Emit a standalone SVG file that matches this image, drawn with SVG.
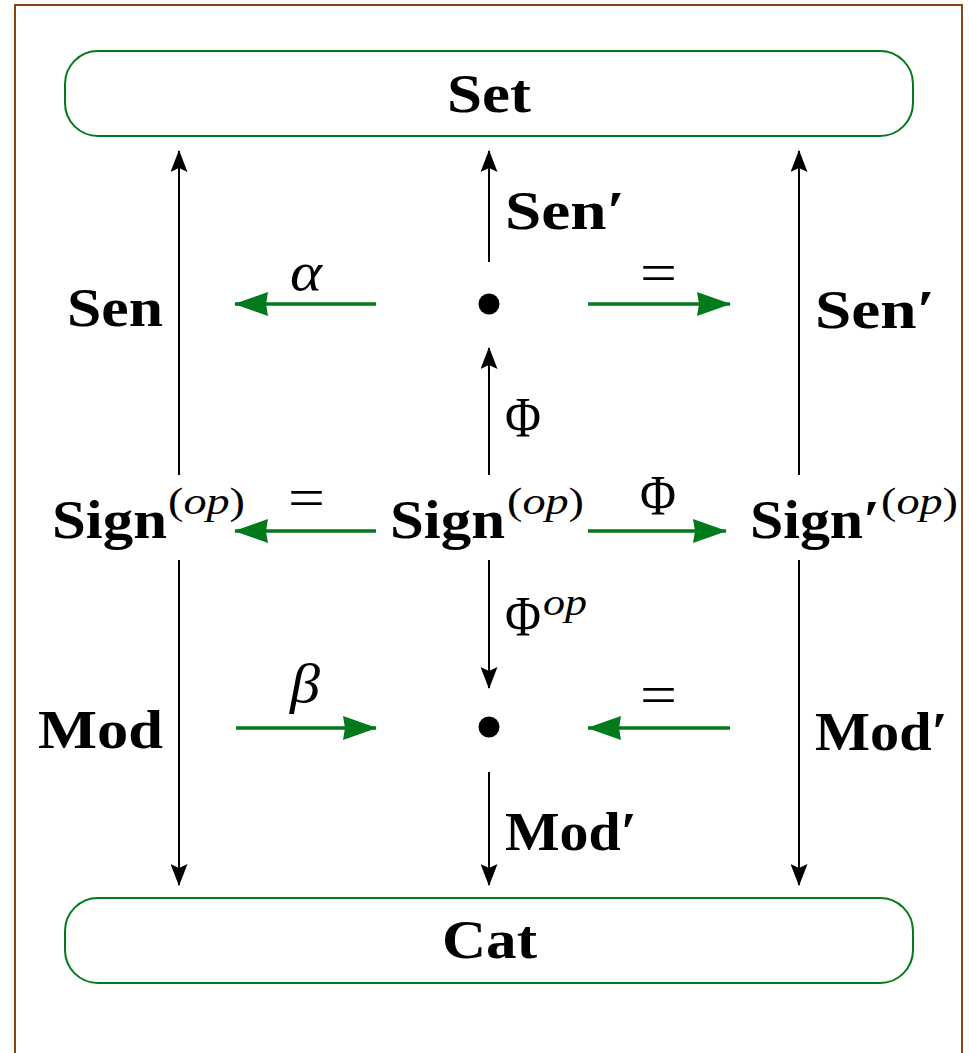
<svg xmlns="http://www.w3.org/2000/svg" width="969" height="1053" viewBox="0 0 969 1053">
<style>
.frame{fill:none;stroke:#8B4513;stroke-width:2}
.box{fill:#fff;stroke:#007a1a;stroke-width:2}
.blk{stroke:#000;stroke-width:2;fill:none}
.grn{stroke:#007a1a;stroke-width:3.5;fill:none}
.bold{font-family:"Liberation Serif","DejaVu Serif",serif;font-weight:bold;font-size:55px;fill:#000}
.rm{font-family:"Liberation Serif","DejaVu Serif",serif;font-size:56px;fill:#000}
.it{font-family:"Liberation Serif","DejaVu Serif",serif;font-style:italic;font-size:54px;fill:#000}
.sup{font-family:"Liberation Serif","DejaVu Serif",serif;font-style:italic;font-size:38px;fill:#000}
.supr{font-family:"Liberation Serif","DejaVu Serif",serif;font-size:38px;fill:#000}
</style>
<defs>
<marker id="ah" viewBox="0 0 22 17" refX="21" refY="8.5" markerWidth="22" markerHeight="17" markerUnits="userSpaceOnUse" orient="auto">
<path d="M0,0 L22,8.5 L0,17 L4,8.5 Z" fill="#000"/>
</marker>
<marker id="gh" viewBox="0 0 34 24" refX="33" refY="12" markerWidth="34" markerHeight="24" markerUnits="userSpaceOnUse" orient="auto">
<path d="M0,0 L34,12 L0,24 L2,12 Z" fill="#007a1a"/>
</marker>
</defs>
<rect class="frame" x="15" y="5" width="947" height="1100"/>

<g id="connectors">
<line class="blk" x1="179" y1="475" x2="179" y2="151" marker-end="url(#ah)"/>
<line class="blk" x1="179" y1="560" x2="179" y2="885" marker-end="url(#ah)"/>
<line class="blk" x1="799" y1="475" x2="799" y2="151" marker-end="url(#ah)"/>
<line class="blk" x1="799" y1="560" x2="799" y2="885" marker-end="url(#ah)"/>
<line class="blk" x1="489" y1="262" x2="489" y2="151" marker-end="url(#ah)"/>
<line class="blk" x1="489" y1="475" x2="489" y2="348" marker-end="url(#ah)"/>
<line class="blk" x1="489" y1="560" x2="489" y2="688" marker-end="url(#ah)"/>
<line class="blk" x1="489" y1="772" x2="489" y2="885" marker-end="url(#ah)"/>
<line class="grn" x1="376" y1="304" x2="235" y2="304" marker-end="url(#gh)"/>
<line class="grn" x1="588" y1="304" x2="730" y2="304" marker-end="url(#gh)"/>
<line class="grn" x1="376" y1="531" x2="235" y2="531" marker-end="url(#gh)"/>
<line class="grn" x1="588" y1="531" x2="726" y2="531" marker-end="url(#gh)"/>
<line class="grn" x1="236" y1="728" x2="376" y2="728" marker-end="url(#gh)"/>
<line class="grn" x1="730" y1="728" x2="588" y2="728" marker-end="url(#gh)"/>
<text class="bold" x="505" y="229" textLength="120" lengthAdjust="spacingAndGlyphs">Sen′</text>
<text class="bold" x="67" y="326" textLength="96" lengthAdjust="spacingAndGlyphs">Sen</text>
<text class="bold" x="815" y="328" textLength="120" lengthAdjust="spacingAndGlyphs">Sen′</text>
<text class="rm" x="505" y="437" textLength="36" lengthAdjust="spacingAndGlyphs">Φ</text>
<text class="rm" x="505" y="636" textLength="36" lengthAdjust="spacingAndGlyphs">Φ</text>
<text class="sup" x="543" y="615" textLength="44" lengthAdjust="spacingAndGlyphs">op</text>
<text class="bold" x="38" y="748" textLength="125" lengthAdjust="spacingAndGlyphs">Mod</text>
<text class="bold" x="815" y="750" textLength="133" lengthAdjust="spacingAndGlyphs">Mod′</text>
<text class="bold" x="505" y="850" textLength="132" lengthAdjust="spacingAndGlyphs">Mod′</text>
<text class="it" x="290" y="290" textLength="32" lengthAdjust="spacingAndGlyphs">α</text>
<text class="rm" x="640" y="292" textLength="37" lengthAdjust="spacingAndGlyphs">=</text>
<text class="rm" x="288" y="517" textLength="37" lengthAdjust="spacingAndGlyphs">=</text>
<text class="rm" x="640" y="515" textLength="36" lengthAdjust="spacingAndGlyphs">Φ</text>
<text class="it" x="290" y="702" textLength="30" lengthAdjust="spacingAndGlyphs">β</text>
<text class="rm" x="640" y="714" textLength="37" lengthAdjust="spacingAndGlyphs">=</text>
</g>

<g id="set">
<rect class="box" x="65" y="51" width="848" height="85" rx="33" ry="33"/>
<text class="bold" x="447" y="112" textLength="84" lengthAdjust="spacingAndGlyphs">Set</text>
</g>
<g id="cat">
<rect class="box" x="65" y="898" width="848" height="85" rx="33" ry="33"/>
<text class="bold" x="442" y="958" textLength="95" lengthAdjust="spacingAndGlyphs">Cat</text>
</g>
<g id="dot-top">
<circle cx="489" cy="304" r="10.5" fill="#000"/>
</g>
<g id="dot-bottom">
<circle cx="489" cy="727" r="10.5" fill="#000"/>
</g>
<g id="sign-left">
<text class="bold" x="52" y="538" textLength="115" lengthAdjust="spacingAndGlyphs">Sign</text>
<text class="supr" x="168" y="514" textLength="77" lengthAdjust="spacingAndGlyphs">(<tspan class="sup">op</tspan>)</text>
</g>
<g id="sign-center">
<text class="bold" x="390" y="538" textLength="115" lengthAdjust="spacingAndGlyphs">Sign</text>
<text class="supr" x="507" y="514" textLength="77" lengthAdjust="spacingAndGlyphs">(<tspan class="sup">op</tspan>)</text>
</g>
<g id="sign-right">
<text class="bold" x="750" y="538" textLength="130" lengthAdjust="spacingAndGlyphs">Sign′</text>
<text class="supr" x="881" y="514" textLength="77" lengthAdjust="spacingAndGlyphs">(<tspan class="sup">op</tspan>)</text>
</g>
</svg>
